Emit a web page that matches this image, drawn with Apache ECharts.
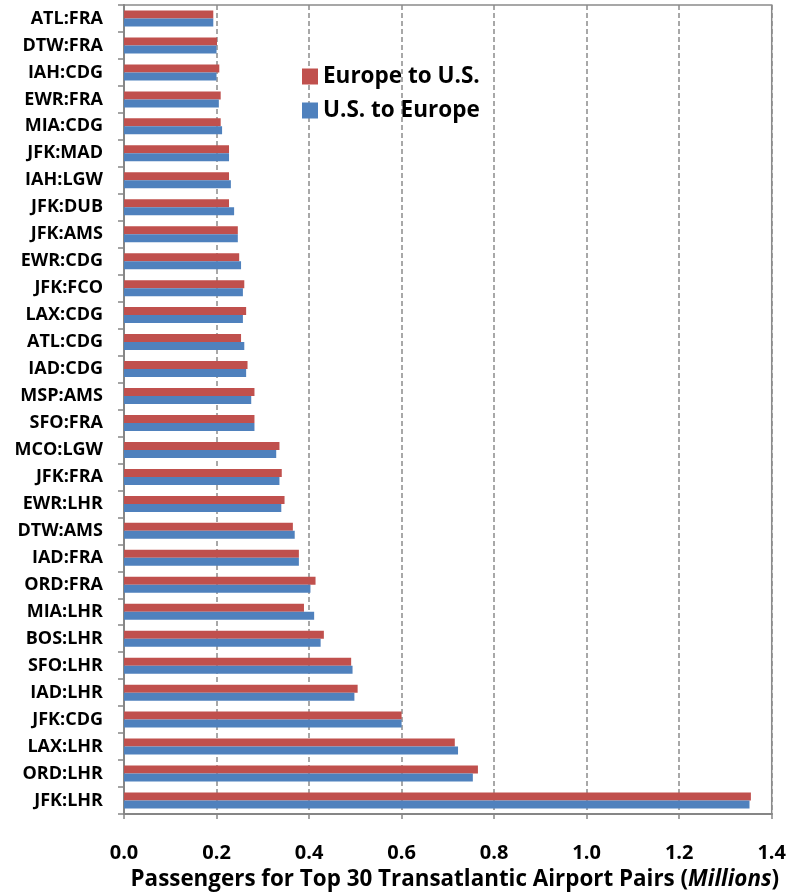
<!DOCTYPE html>
<html>
<head>
<meta charset="utf-8">
<title>Top 30 Transatlantic Airport Pairs</title>
<script src="https://cdn.jsdelivr.net/npm/echarts@6/dist/echarts.min.js"></script>
<style>
  html, body { margin: 0; padding: 0; background: #fff; }
  #chart { width: 789px; height: 896px; }
</style>
</head>
<body>
<div id="chart"></div>
<script>
// Airport pairs, listed from top of the chart to bottom
const airportPairs = [
  'ATL:FRA', 'DTW:FRA', 'IAH:CDG', 'EWR:FRA', 'MIA:CDG',
  'JFK:MAD', 'IAH:LGW', 'JFK:DUB', 'JFK:AMS', 'EWR:CDG',
  'JFK:FCO', 'LAX:CDG', 'ATL:CDG', 'IAD:CDG', 'MSP:AMS',
  'SFO:FRA', 'MCO:LGW', 'JFK:FRA', 'EWR:LHR', 'DTW:AMS',
  'IAD:FRA', 'ORD:FRA', 'MIA:LHR', 'BOS:LHR', 'SFO:LHR',
  'IAD:LHR', 'JFK:CDG', 'LAX:LHR', 'ORD:LHR', 'JFK:LHR'
];

// Passengers in millions
const europeToUS = [
  0.193, 0.201, 0.206, 0.209, 0.209,
  0.227, 0.227, 0.227, 0.246, 0.249,
  0.260, 0.264, 0.253, 0.267, 0.282,
  0.282, 0.336, 0.341, 0.347, 0.365,
  0.378, 0.414, 0.389, 0.432, 0.491,
  0.505, 0.600, 0.715, 0.765, 1.355
];
const usToEurope = [
  0.193, 0.200, 0.200, 0.205, 0.212,
  0.227, 0.231, 0.238, 0.246, 0.253,
  0.257, 0.257, 0.260, 0.264, 0.275,
  0.282, 0.329, 0.336, 0.340, 0.369,
  0.378, 0.403, 0.411, 0.425, 0.494,
  0.498, 0.600, 0.722, 0.754, 1.352
];

const seriesNames = ['Europe to U.S.', 'U.S. to Europe'];
const xTicks = { min: 0, max: 1.4, step: 0.2 };

const FONT = '"Open Sans", Lato, sans-serif';
const AXIS_GRAY = '#868686';

const chart = echarts.init(document.getElementById('chart'), null, { renderer: 'canvas' });

chart.setOption({
  animation: false,
  backgroundColor: '#ffffff',
  textStyle: { fontFamily: FONT },
  grid: {
    left: 124, right: 17, top: 5, bottom: 82,
    show: true,
    borderColor: '#8a8a8a',
    borderWidth: 1.5,
    containLabel: false
  },
  legend: {
    orient: 'vertical',
    left: 297,
    top: 60,
    itemWidth: 16,
    itemHeight: 16,
    itemGap: 11,
    icon: 'rect',
    textStyle: { fontFamily: FONT, fontWeight: 'bold', fontSize: 22.5, color: '#000' },
    data: seriesNames
  },
  xAxis: {
    type: 'value',
    min: xTicks.min,
    max: xTicks.max,
    interval: xTicks.step,
    axisLine: { show: true, lineStyle: { color: AXIS_GRAY, width: 2 } },
    axisTick: { show: true, length: 5, lineStyle: { color: AXIS_GRAY, width: 1.5 } },
    splitLine: { show: true, lineStyle: { color: '#8c8c8c', width: 1.5, type: [5, 3] } },
    axisLabel: {
      margin: 29,
      fontFamily: FONT, fontWeight: 'bold', fontSize: 20, color: '#000',
      formatter: v => v.toFixed(1)
    },
    name: 'Passengers for Top 30 Transatlantic Airport Pairs ({i|Millions})',
    nameLocation: 'middle',
    nameGap: 55,
    nameTextStyle: {
      fontFamily: FONT, fontWeight: 'bold', fontSize: 22.4, color: '#000',
      padding: [0, 0, 0, 14],
      rich: {
        i: { fontFamily: FONT, fontWeight: 'bold', fontStyle: 'italic', fontSize: 22.4, color: '#000' }
      }
    }
  },
  yAxis: {
    type: 'category',
    inverse: true,
    data: airportPairs,
    boundaryGap: true,
    axisLine: { show: true, lineStyle: { color: AXIS_GRAY, width: 2 } },
    axisTick: { show: true, length: 6, lineStyle: { color: AXIS_GRAY, width: 1.5 } },
    splitLine: { show: false },
    axisLabel: {
      margin: 21,
      fontFamily: FONT, fontWeight: 'bold', fontSize: 18, color: '#000'
    }
  },
  series: [
    {
      name: seriesNames[0],
      type: 'bar',
      data: europeToUS,
      barWidth: 8,
      barGap: '0%',
      itemStyle: { color: '#C0504D' }
    },
    {
      name: seriesNames[1],
      type: 'bar',
      data: usToEurope,
      barWidth: 8,
      barGap: '0%',
      itemStyle: { color: '#4F81BD' }
    }
  ]
});
</script>
</body>
</html>
